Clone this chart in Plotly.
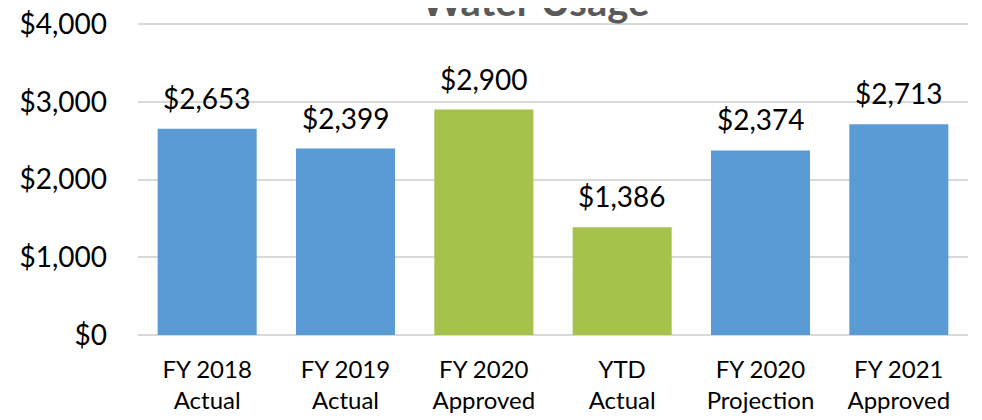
import plotly.graph_objects as go

categories = ["FY 2018<br>Actual", "FY 2019<br>Actual", "FY 2020<br>Approved", "YTD<br>Actual", "FY 2020<br>Projection", "FY 2021<br>Approved"]
values = [2653, 2399, 2900, 1386, 2374, 2713]
bar_colors = ["#5B9BD5", "#5B9BD5", "#A5C34A", "#A5C34A", "#5B9BD5", "#5B9BD5"]
tick_vals = [0, 1000, 2000, 3000, 4000]
tick_text = ["$0", "$1,000", "$2,000", "$3,000", "$4,000"]

font_family = "Lato, 'Open Sans', sans-serif"

fig = go.Figure(go.Bar(
    x=categories, y=values,
    marker=dict(color=bar_colors, line=dict(width=0)),
    hoverinfo="x+y",
))

annotations = [dict(
    x=c, y=v, xref="x", yref="y", text=f"${v:,}",
    showarrow=False, xanchor="center", yanchor="bottom", yshift=12,
    font=dict(size=28, color="#000000", family=font_family),
) for c, v in zip(categories, values)]

annotations.append(dict(
    text="<b>Water Usage</b>", xref="paper", yref="paper",
    x=0.478, y=1, xanchor="center", yanchor="bottom", yshift=-6,
    showarrow=False,
    font=dict(family="Lato, sans-serif", size=40, color="#595959"),
))

# page body adds an 8px offset; the figure is sized to compensate
fig.update_layout(
    width=974, height=412,
    margin=dict(l=130, r=14, t=13, b=85),
    plot_bgcolor="white", paper_bgcolor="white",
    bargap=0.284,
    showlegend=False,
    font=dict(family=font_family, size=24, color="#000000"),
    annotations=annotations,
)
fig.update_yaxes(
    range=[0, 4040], tickvals=tick_vals, ticktext=tick_text,
    showgrid=True, gridcolor="#D9D9D9", gridwidth=1.5,
    zeroline=True, zerolinecolor="#D9D9D9", zerolinewidth=1.5,
    tickfont=dict(size=28), ticklabelstandoff=30, showline=False,
    ticklabeloverflow="allow",
    automargin=False,
)
fig.update_xaxes(tickfont=dict(size=24), showline=False, ticklabelstandoff=18,
                 ticklabeloverflow="allow", automargin=False)

fig.write_html("out.html")
